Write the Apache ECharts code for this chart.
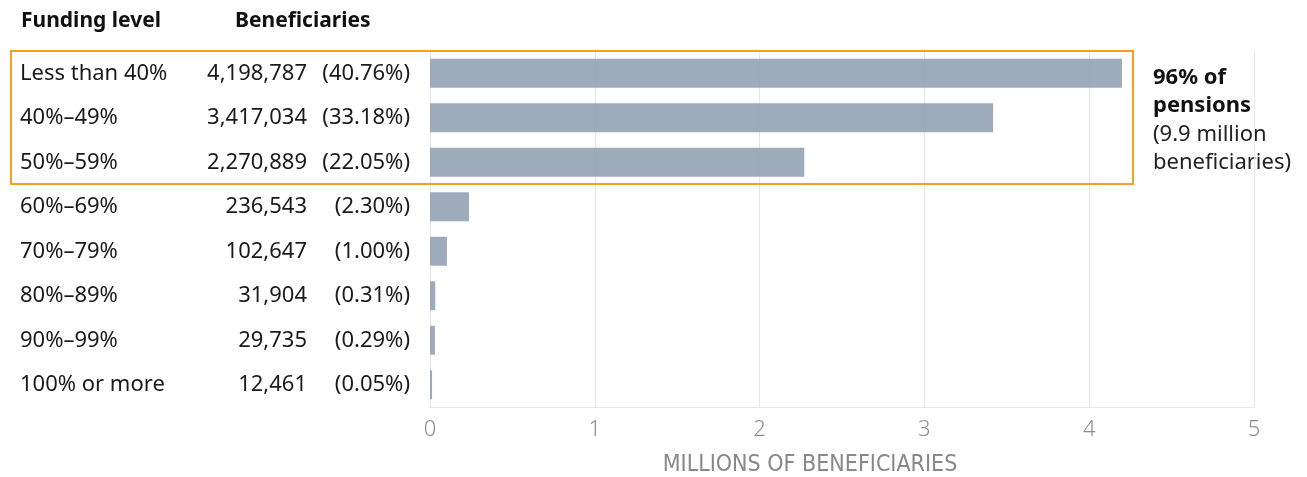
<!DOCTYPE html>
<html>
<head>
<meta charset="utf-8">
<script src="https://cdn.jsdelivr.net/npm/echarts@6/dist/echarts.min.js"></script>
<style>
  html, body { margin: 0; padding: 0; background: #fff; }
  #chart { width: 1307px; height: 477px; }
</style>
</head>
<body>
<div id="chart"></div>
<script>
var levels = ['Less than 40%', '40%–49%', '50%–59%', '60%–69%', '70%–79%', '80%–89%', '90%–99%', '100% or more'];
var beneficiaries = [4198787, 3417034, 2270889, 236543, 102647, 31904, 29735, 12461];
var shares = ['40.76%', '33.18%', '22.05%', '2.30%', '1.00%', '0.31%', '0.29%', '0.05%'];
var xTicks = [0, 1, 2, 3, 4, 5];

var chartDom = document.getElementById('chart');
var myChart = echarts.init(chartDom);
var font = '"Noto Sans", "Open Sans", sans-serif';

var option = {
    animation: false,
    grid: {
        left: 430,
        right: 53,
        top: 51,
        bottom: 70,
        outerBoundsMode: 'none'
    },
    xAxis: {
        type: 'value',
        min: 0,
        max: 5,
        interval: 1,
        axisLine: { show: true, lineStyle: { color: '#e6e6e6', width: 1 } },
        axisTick: { show: false },
        splitLine: { lineStyle: { color: '#e6e6e6', width: 1 } },
        axisLabel: {
            color: '#8c8c8c',
            fontFamily: font,
            fontSize: 22,
            fontWeight: 300,
            margin: 12,
            formatter: function (v) { return xTicks.indexOf(v) >= 0 ? String(v) : ''; }
        },
        name: 'MILLIONS OF BENEFICIARIES',
        nameLocation: 'middle',
        nameGap: 47,
        nameTextStyle: {
            color: '#888',
            fontFamily: '"Liberation Sans Narrow", "DejaVu Sans Condensed", sans-serif',
            fontSize: 23,
            padding: [0, 64, 0, 0]
        }
    },
    yAxis: {
        type: 'category',
        inverse: true,
        data: levels,
        axisLine: { show: false },
        axisTick: { show: false },
        axisLabel: {
            margin: 20,
            formatter: function (v, i) {
                return '{a|' + v + '}{b|' + beneficiaries[i].toLocaleString('en-US') + '}{c|(' + shares[i] + ')}';
            },
            rich: {
                a: { width: 175, align: 'left', fontFamily: font, fontSize: 22, color: '#1a1a1a' },
                b: { width: 112, align: 'right', fontFamily: font, fontSize: 22, color: '#1a1a1a' },
                c: { width: 103, align: 'right', fontFamily: font, fontSize: 22, color: '#1a1a1a' }
            }
        }
    },
    series: [{
        type: 'bar',
        data: beneficiaries.map(function (v) { return v / 1e6; }),
        barCategoryGap: '35%',
        itemStyle: { color: '#92a2b2', opacity: 0.9 }
    }],
    graphic: [
        {
            type: 'text', left: 21, top: 11,
            style: { text: 'Funding level', font: 'bold 21px "Noto Sans", sans-serif', fill: '#111' }
        },
        {
            type: 'text', left: 235, top: 11,
            style: { text: 'Beneficiaries', font: 'bold 21px "Noto Sans", sans-serif', fill: '#111' }
        },
        {
            type: 'rect',
            shape: { x: 11, y: 51, width: 1122, height: 133 },
            style: { fill: 'none', stroke: '#f5a023', lineWidth: 2 },
            z: 10
        },
        {
            type: 'text', left: 1153, top: 64,
            style: { text: '96% of\npensions', font: 'bold 22px "Noto Sans", sans-serif', fill: '#111', lineHeight: 28 }
        },
        {
            type: 'text', left: 1153, top: 121,
            style: { text: '(9.9 million\nbeneficiaries)', font: '22px "Noto Sans", sans-serif', fill: '#222', lineHeight: 28 }
        }
    ]
};

option && myChart.setOption(option);
</script>
</body>
</html>
